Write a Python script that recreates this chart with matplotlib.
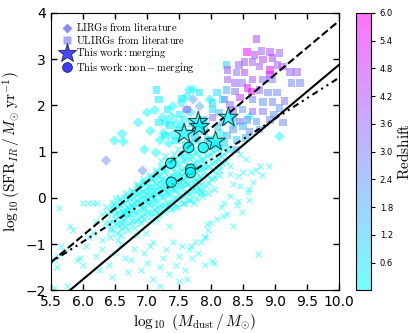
import matplotlib
matplotlib.use("Agg")
import matplotlib.pyplot as plt
from matplotlib.lines import Line2D

plt.rcParams['mathtext.fontset'] = 'cm'

# --- data (log Mdust, log SFR_IR, redshift) ---

# this work: merging (stars) and non-merging (circles)
merg_x = [7.58, 7.80, 7.82, 8.07, 8.27]
merg_y = [1.39, 1.65, 1.54, 1.22, 1.74]
merg_z = [0.05, 0.05, 0.05, 0.05, 0.05]
nonm_x = [7.37, 7.65, 7.88, 7.68, 7.68, 7.38]
nonm_y = [0.75, 1.09, 1.09, 0.62, 0.55, 0.34]
nonm_z = [0.05, 0.05, 0.05, 0.05, 0.05, 0.05]

# ULIRGs from literature (squares)
ulirg_x = [8.71, 8.56, 8.79, 8.92, 9.07, 8.68, 8.52, 8.65, 8.81, 8.96, 8.44, 8.76,
           8.92, 8.92, 9.04, 9.23, 9.34, 9.39, 9.26, 9.12, 8.24, 8.40, 8.52, 8.37,
           8.49, 8.65, 8.81, 8.95, 8.57, 8.63, 8.76, 8.89, 9.03, 8.24, 8.37, 8.45,
           8.65, 8.81, 8.96, 9.07, 8.81, 8.65, 8.49, 8.34, 8.21, 8.71, 8.92, 8.57,
           8.45, 8.76, 8.60, 8.34, 8.18, 8.26, 8.26, 9.12, 8.30, 8.98, 9.15,
           7.15, 7.82, 8.09, 8.18, 8.02, 7.62, 8.02, 7.51, 7.32, 7.19, 7.19, 7.36,
           7.45, 7.60, 7.75, 7.90, 8.10, 8.25, 8.40, 8.29, 8.40, 8.55, 8.20, 7.95,
           7.70, 7.88, 8.12, 7.68, 7.48, 7.28, 8.35, 8.50, 8.02, 7.55]
ulirg_y = [3.44, 3.16, 3.18, 3.16, 3.14, 3.09, 2.94, 2.94, 2.99, 3.03, 2.88, 2.84,
           2.77, 2.66, 2.88, 2.73, 2.73, 2.49, 2.49, 2.84, 2.88, 2.71, 2.71, 2.49,
           2.49, 2.56, 2.56, 2.56, 2.38, 2.30, 2.34, 2.28, 2.28, 2.34, 2.30, 2.17,
           2.13, 2.08, 2.08, 1.95, 1.87, 1.87, 1.91, 1.91, 2.13, 1.65, 1.69, 1.69,
           1.65, 1.48, 1.44, 1.48, 1.63, 2.77, 2.56, 1.63, 2.02, 1.80, 2.10,
           2.34, 2.28, 2.28, 2.13, 1.91, 1.91, 1.74, 1.80, 1.91, 2.13, 1.63, 1.58,
           1.24, 1.15, 1.30, 1.45, 1.52, 1.35, 1.25, 1.05, 1.05, 1.30, 1.20, 1.25,
           1.62, 1.70, 1.85, 1.40, 1.48, 1.35, 1.75, 1.55, 2.05, 2.15]
ulirg_z = [4.2, 5.6, 3.8, 4.0, 3.8, 4.2, 4.0, 3.8, 4.2, 4.4, 3.4, 3.8,
           5.6, 5.2, 3.8, 3.6, 3.8, 2.8, 2.6, 4.0, 1.2, 3.0, 4.2, 3.6,
           3.2, 3.8, 3.4, 2.8, 5.4, 5.8, 3.6, 2.8, 2.6, 1.8, 3.4, 4.6,
           2.8, 2.4, 2.8, 2.4, 3.0, 3.6, 2.4, 3.6, 4.0, 2.4, 2.8, 2.2,
           3.4, 2.0, 2.6, 2.4, 1.6, 4.0, 3.8, 2.6, 3.2, 2.4, 3.0,
           0.4, 0.5, 0.8, 0.6, 0.9, 3.0, 3.4, 0.3, 0.2, 0.2, 0.3, 0.4,
           0.3, 0.4, 0.8, 1.0, 1.3, 1.6, 1.2, 0.5, 1.8, 1.5, 1.0, 0.7,
           0.6, 1.1, 1.4, 0.5, 0.3, 0.2, 2.2, 1.7, 0.9, 0.4]

# LIRGs from literature (diamonds)
lirg_x = [6.36, 6.49, 6.61, 6.63, 6.86, 7.00, 6.96, 7.14, 7.24, 7.30, 7.38, 7.40,
          7.54, 7.62, 7.72, 7.82, 7.62, 7.72, 6.93, 7.40, 7.50, 7.55, 7.80, 7.98,
          8.05, 7.66, 9.07, 8.60, 7.26, 7.46, 7.34, 7.68, 7.90, 8.15, 7.20, 7.05,
          8.35, 7.78, 7.58, 7.12]
lirg_y = [0.81, 1.24, 1.39, 1.22, 1.63, 1.85, 1.05, 0.98, 1.74, 1.63, 1.76, 1.98,
          2.06, 1.91, 2.13, 1.98, 2.20, 2.34, 0.59, 1.36, 1.30, 1.55, 1.45, 2.13,
          1.15, 2.34, 1.33, 1.75, 1.40, 1.62, 1.18, 1.85, 1.62, 1.40, 1.25, 1.45,
          1.60, 1.25, 1.70, 1.90]
lirg_z = [2.6, 0.1, 0.1, 0.1, 0.1, 0.1, 0.1, 0.1, 0.2, 0.1, 0.2, 0.1,
          0.2, 3.0, 2.2, 2.0, 0.2, 0.1, 2.4, 0.2, 0.1, 0.3, 0.2, 0.1,
          0.1, 0.1, 0.2, 0.1, 0.1, 0.2, 0.1, 0.3, 0.2, 0.1, 0.1, 0.1,
          0.2, 0.1, 0.2, 0.1]

# local galaxies (crosses): sparse outskirts
cross_x = [5.55, 5.60, 5.65, 5.70, 5.60, 5.55, 5.75, 5.80, 5.85, 5.63, 5.90, 5.95,
           6.00, 6.05, 6.10, 6.15, 6.20, 6.25, 6.30, 6.00, 6.08, 6.15, 6.22, 6.30,
           6.35, 6.40, 6.45, 6.50, 6.55, 6.60, 6.65, 6.70, 6.75, 6.80, 6.85, 6.90,
           6.95, 7.00, 7.05, 7.10, 7.10, 7.20, 7.25, 7.30, 7.35, 7.40, 7.45, 7.50,
           7.55, 7.60, 7.65, 7.70, 7.75, 7.50, 7.20, 7.90, 8.05, 7.80, 7.90, 7.95,
           8.00, 8.10, 8.15, 8.20, 8.30, 8.35, 8.45, 8.50, 8.60, 8.65, 8.70, 8.76,
           8.80, 8.90, 8.60, 8.49, 8.40, 8.25, 8.35, 8.30, 8.42, 8.45, 8.55, 8.63,
           8.74, 8.02, 7.62, 7.85, 6.90, 6.70, 6.80, 6.50, 6.45, 6.60, 6.30, 6.20,
           7.69, 7.93, 7.90, 8.18, 8.29, 8.57, 8.42, 7.35, 7.15, 6.98]
cross_y = [-1.35, -1.25, -1.05, -1.15, -1.50, -1.95, -1.90, -0.60, -0.70, -0.22, -1.35, -1.30,
           -1.45, -1.05, -0.85, -0.75, -1.25, -1.55, -1.10, -0.10, -0.10, -0.10, -0.10, -0.35,
           -0.55, -1.45, -1.70, -1.20, -0.90, -1.00, -1.30, -1.60, -1.35, -1.10, -0.80, -1.55,
           -1.20, -1.40, -1.05, -0.95, -1.75, -1.50, -1.30, -1.10, -1.65, -0.95, -1.45, -1.25,
           -1.05, -1.55, -1.10, -1.30, -0.95, -1.80, -1.90, -1.45, -1.40, -1.20, -0.85, -0.70,
           -0.55, -0.45, -0.20, -0.10, 0.05, 0.30, 0.25, 0.55, 0.20, 0.35, 0.60, 0.70,
           0.50, 0.70, -0.05, -0.30, -0.15, -0.35, -0.60, 0.70, 0.47, 0.95, 0.85, 0.57,
           -1.22, -1.37, -1.75, -0.95, -0.20, -0.35, 0.10, 0.00, -0.25, -0.55, -0.90, -0.50,
           -1.04, -0.57, -0.85, -0.40, 0.51, 0.12, -0.07, -0.60, -0.45, -0.75]

# local galaxies (crosses): dense core along the relation
core_x = [6.41, 6.38, 6.44, 6.36, 6.42, 6.46, 6.44, 6.47, 6.43,
          6.52, 6.48, 6.55, 6.47, 6.53, 6.50, 6.56, 6.54, 6.57, 6.53, 6.55,
          6.62, 6.58, 6.64, 6.57, 6.61, 6.63, 6.59, 6.66, 6.64, 6.67, 6.63, 6.65, 6.66,
          6.72, 6.68, 6.71, 6.67, 6.73, 6.69, 6.70, 6.76, 6.74, 6.77, 6.73, 6.75, 6.76,
          6.81, 6.78, 6.83, 6.77, 6.82, 6.79, 6.84, 6.80, 6.86, 6.84, 6.87, 6.83, 6.85, 6.86, 6.84,
          6.91, 6.88, 6.93, 6.87, 6.92, 6.89, 6.94, 6.90, 6.96, 6.94, 6.97, 6.93, 6.95, 6.96, 6.94,
          7.01, 6.98, 7.03, 6.97, 7.02, 6.99, 7.04, 6.96, 7.00,
          7.06, 7.04, 7.07, 7.03, 7.05, 7.06, 7.04, 7.07,
          7.11, 7.08, 7.13, 7.07, 7.12, 7.09, 7.14, 7.06, 7.10,
          7.16, 7.14, 7.17, 7.13, 7.15, 7.16, 7.14, 7.17,
          7.21, 7.18, 7.23, 7.17, 7.22, 7.19, 7.24, 7.16, 7.20, 7.22,
          7.26, 7.24, 7.27, 7.23, 7.25, 7.26, 7.24, 7.27,
          7.31, 7.28, 7.33, 7.27, 7.32, 7.29, 7.34, 7.26, 7.30, 7.28,
          7.36, 7.34, 7.37, 7.33, 7.35, 7.36, 7.34, 7.37,
          7.41, 7.38, 7.43, 7.37, 7.42, 7.39, 7.44, 7.36, 7.40, 7.42,
          7.46, 7.44, 7.47, 7.43, 7.45, 7.46, 7.44, 7.47,
          7.51, 7.48, 7.53, 7.47, 7.52, 7.49, 7.54, 7.46, 7.50, 7.48,
          7.56, 7.54, 7.57, 7.53, 7.55, 7.56, 7.54, 7.57,
          7.61, 7.58, 7.63, 7.57, 7.62, 7.59, 7.64, 7.56, 7.60, 7.62,
          7.66, 7.64, 7.67, 7.63, 7.65, 7.66, 7.64, 7.67,
          7.71, 7.68, 7.73, 7.67, 7.72, 7.69, 7.74, 7.66, 7.70, 7.68,
          7.76, 7.74, 7.77, 7.73, 7.75, 7.76, 7.74, 7.77,
          7.81, 7.78, 7.83, 7.77, 7.82, 7.79, 7.84, 7.76, 7.80,
          7.86, 7.84, 7.87, 7.83, 7.85, 7.86, 7.84,
          7.91, 7.88, 7.93, 7.87, 7.92, 7.89, 7.94, 7.86,
          7.96, 7.94, 7.97, 7.93, 7.95, 7.96,
          8.01, 7.98, 8.03, 7.97, 8.02, 7.99, 8.04,
          8.06, 8.04, 8.07, 8.03, 8.05,
          8.11, 8.08, 8.13, 8.07, 8.12,
          8.16, 8.14, 8.17, 8.13,
          8.21, 8.18, 8.23, 8.17]
core_y = [-0.55, -0.35, -0.70, -0.20, -0.85, -0.50, -0.30, -0.15, -0.65,
          -0.45, -0.25, -0.60, -0.10, -0.75, -0.35, -0.40, -0.20, -0.05, -0.55, -0.30,
          -0.35, -0.15, -0.50, 0.00, -0.65, -0.30, -0.80, -0.30, -0.10, 0.05, -0.45, -0.25, -0.60,
          -0.25, -0.05, -0.40, 0.10, -0.55, -0.20, -0.70, -0.20, 0.00, 0.15, -0.35, -0.15, -0.50,
          -0.20, 0.00, -0.35, 0.15, -0.50, -0.10, 0.25, -0.65, -0.12, 0.08, 0.20, -0.30, -0.05, -0.45, 0.30,
          -0.10, 0.10, -0.25, 0.25, -0.40, 0.00, 0.35, -0.55, -0.05, 0.15, 0.30, -0.20, 0.05, -0.35, 0.40,
          0.00, 0.20, -0.15, 0.35, -0.30, 0.10, 0.45, -0.45, -0.05,
          0.05, 0.25, 0.40, -0.10, 0.15, -0.30, 0.50, -0.50,
          0.05, 0.25, -0.10, 0.40, -0.25, 0.15, 0.55, -0.40, 0.00,
          0.10, 0.30, 0.45, -0.05, 0.20, -0.20, 0.60, -0.35,
          0.15, 0.35, 0.00, 0.50, -0.15, 0.25, 0.65, -0.30, 0.10, 0.80,
          0.20, 0.40, 0.55, 0.05, 0.30, -0.15, 0.70, -0.30,
          0.20, 0.40, 0.05, 0.60, -0.10, 0.30, 0.75, -0.25, 0.15, 0.90,
          0.25, 0.45, 0.65, 0.10, 0.35, -0.10, 0.80, -0.25,
          0.30, 0.50, 0.15, 0.70, 0.00, 0.40, 0.85, -0.20, 0.20, 0.95,
          0.35, 0.55, 0.70, 0.20, 0.45, 0.00, 0.85, -0.20,
          0.35, 0.55, 0.20, 0.75, 0.05, 0.45, 0.90, -0.15, 0.30, 1.05,
          0.40, 0.60, 0.80, 0.25, 0.50, 0.05, 0.95, -0.10,
          0.45, 0.65, 0.30, 0.85, 0.10, 0.55, 1.00, -0.10, 0.35, 1.15,
          0.50, 0.70, 0.85, 0.30, 0.55, 0.10, 1.00, -0.05,
          0.50, 0.70, 0.35, 0.90, 0.15, 0.60, 1.05, -0.05, 0.25, 1.20,
          0.55, 0.75, 0.95, 0.40, 0.65, 0.15, -0.10, 0.25,
          0.60, 0.80, 0.45, 1.00, 0.20, 0.70, 1.15, 0.00, 0.35,
          0.65, 0.85, 1.00, 0.45, 0.30, 0.05, 0.15,
          0.65, 0.85, 0.50, 1.05, 0.25, 0.75, 1.20, 0.10,
          0.70, 0.90, 1.10, 0.50, 0.35, 0.10,
          0.75, 0.95, 0.60, 1.15, 0.40, 1.30, 0.20,
          0.80, 1.00, 1.15, 0.60, 0.45,
          0.85, 1.05, 0.70, 1.20, 0.50,
          0.90, 1.10, 0.75, 0.60,
          0.95, 1.10, 0.80, 1.30]

# fitted relations
fit_x = [5.5, 10.0]
dashed_y = [-1.39, 3.83]
solid_y = [-2.34, 2.88]
dotted_y = [-1.39, 2.60]

fig = plt.figure(figsize=(4.15, 3.33), dpi=100)
ax = fig.add_axes([0.123, 0.128, 0.694, 0.833])
cax = fig.add_axes([0.859, 0.128, 0.034, 0.833])

cmap = plt.cm.cool
ax.scatter(cross_x, cross_y, marker='x', s=18, color=cmap(0.0), alpha=0.45, linewidths=1)
ax.scatter(core_x, core_y, marker='x', s=22, color=cmap(0.0), alpha=0.5, linewidths=1.1)
ax.scatter(lirg_x, lirg_y, c=lirg_z, cmap=cmap, vmin=0, vmax=6, marker='D', s=28,
           alpha=0.5, edgecolors='none')
sq = ax.scatter(ulirg_x, ulirg_y, c=ulirg_z, cmap=cmap, vmin=0, vmax=6, marker='s',
                s=30, alpha=0.55, edgecolors='none')
ax.plot(fit_x, dashed_y, 'k--', lw=1.5)
ax.plot(fit_x, solid_y, 'k-', lw=1.5)
ax.plot(fit_x, dotted_y, color='k', lw=1.5, linestyle=(0, (1, 2, 1, 2, 3, 2)))
ax.scatter(merg_x, merg_y, c=merg_z, cmap=cmap, vmin=0, vmax=6, marker='*', s=220,
           alpha=0.7, edgecolors='k', linewidths=0.8, zorder=5)
ax.scatter(nonm_x, nonm_y, c=nonm_z, cmap=cmap, vmin=0, vmax=6, marker='o', s=55,
           alpha=0.7, edgecolors='k', linewidths=0.8, zorder=5)

handles = [
    Line2D([], [], ls='none', marker='D', ms=5, mfc='#8c8cff', mec='none'),
    Line2D([], [], ls='none', marker='s', ms=5.5, mfc='#a8a8ff', mec='none'),
    Line2D([], [], ls='none', marker='*', ms=14, mfc='#4848ff', mec='#222266', mew=0.6),
    Line2D([], [], ls='none', marker='o', ms=7, mfc='#3c3cff', mec='#222266', mew=0.6),
]
labels = [r'$\rm LIRGs\ from\ literature$', r'$\rm ULIRGs\ from\ literature$',
          r'$\rm This\ work: merging$', r'$\rm This\ work: non-merging$']
ax.legend(handles, labels, loc='upper left', frameon=False, fontsize=7.5,
          handletextpad=0.1, labelspacing=0.05, borderaxespad=0.4, handlelength=1.5)

ax.set_xlim(5.5, 10.0)
ax.set_ylim(-2, 4)
ax.set_xticks([5.5, 6.0, 6.5, 7.0, 7.5, 8.0, 8.5, 9.0, 9.5, 10.0])
ax.set_yticks([-2, -1, 0, 1, 2, 3, 4])
ax.tick_params(direction='in', top=True, right=True, labelsize=10, length=4, width=1)
ax.set_xlabel(r'$\log_{10}\ (M_{\rm dust}\,/\,M_{\odot})$', fontsize=11, labelpad=2)
ax.set_ylabel(r'$\log_{10}({\rm SFR}_{IR}\,/\,M_{\odot}\ {\rm yr}^{-1})$', fontsize=11, labelpad=2)

cb = fig.colorbar(sq, cax=cax, ticks=[0.6, 1.2, 1.8, 2.4, 3.0, 3.6, 4.2, 4.8, 5.4, 6.0])
cb.ax.set_yticklabels(['0.6', '1.2', '1.8', '2.4', '3.0', '3.6', '4.2', '4.8', '5.4', '6.0'])
cb.ax.tick_params(labelsize=6, length=3)
cb.set_label(r'$\rm Redshift$', fontsize=11, labelpad=2)

fig.savefig("out.png", dpi=100)
